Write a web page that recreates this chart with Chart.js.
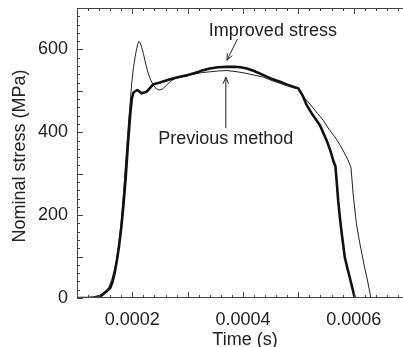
<!DOCTYPE html>
<html>
<head>
<meta charset="utf-8">
<script src="https://cdn.jsdelivr.net/npm/chart.js@4/dist/chart.umd.min.js"></script>
<style>
  html, body { margin: 0; padding: 0; background: #fff; overflow: hidden; }
  #wrap { width: 412px; height: 347px; }
</style>
</head>
<body>
<div id="wrap"><canvas id="stressChart" width="412" height="347"></canvas></div>
<script>
// Improved stress (thick line): time (s) / nominal stress (MPa)
const improvedTime = [0.0001, 0.00013, 0.00014, 0.000148, 0.000155, 0.00016, 0.000164, 0.000168, 0.000172, 0.000176,
  0.00018, 0.000184, 0.000188, 0.000192, 0.000196, 0.000199, 0.000202, 0.000209, 0.000217, 0.000226,
  0.000238, 0.00025, 0.000268, 0.000286, 0.0003, 0.00031, 0.00032, 0.000328, 0.00034, 0.000355,
  0.00037, 0.000385, 0.000395, 0.000407, 0.00042, 0.000437, 0.00045, 0.000467, 0.00048, 0.000491,
  0.0005, 0.000508, 0.000515, 0.000525, 0.000539, 0.000551, 0.000558, 0.000563, 0.000567, 0.00057,
  0.000572, 0.000575, 0.000578, 0.000584, 0.000589, 0.000593, 0.000598, 0.000602];
const improvedStress = [0, 0, 2, 10, 18, 24, 38, 60, 90, 125,
  170, 225, 290, 370, 440, 480, 496, 502, 494, 498,
  516, 520, 528, 534, 538, 542, 546, 550, 554, 557,
  558, 558, 557, 554, 548, 538, 530, 522, 515, 510,
  506, 488, 466, 444, 417, 381, 355, 332, 318, 270,
  235, 195, 160, 98, 70, 49, 22, 0];

// Previous method (thin line)
const previousTime = [0.0001, 0.000118, 0.00013, 0.000142, 0.00015, 0.000157, 0.000163, 0.000168, 0.000172, 0.000176,
  0.00018, 0.000183, 0.000187, 0.00019, 0.000193, 0.000196, 0.000199, 0.000202, 0.000205, 0.000208,
  0.00021, 0.000212, 0.000214, 0.000217, 0.00022, 0.000223, 0.000227, 0.000232, 0.000237, 0.000241,
  0.000246, 0.00025, 0.000255, 0.000259, 0.000268, 0.000277, 0.00029, 0.00031, 0.000325, 0.00034,
  0.000355, 0.000371, 0.00039, 0.000407, 0.00042, 0.000437, 0.00045, 0.000467, 0.00048, 0.00049,
  0.0005, 0.000508, 0.000521, 0.000535, 0.000545, 0.000556, 0.000566, 0.000575, 0.000581, 0.000589,
  0.000595, 0.000597, 0.000599, 0.000602, 0.000605, 0.00061, 0.000615, 0.00062, 0.000624, 0.000628,
  0.000631];
const previousStress = [0, 1, 3, 7, 14, 24, 45, 70, 95, 135,
  185, 235, 310, 365, 420, 470, 520, 556, 582, 603,
  614, 619, 616, 605, 590, 572, 550, 530, 516, 508,
  503, 502, 505, 510, 522, 530, 534, 540, 544, 546,
  548, 549, 546, 542, 538, 533, 526, 518, 512, 508,
  505, 488, 468, 445, 429, 406, 389, 370, 356, 335,
  316, 285, 251, 215, 179, 140, 106, 72, 49, 22,
  0];

const xTicks = [0.0002, 0.0004, 0.0006];
const yTicks = [0, 200, 400, 600];
const xTitle = "Time (s)";
const yTitle = "Nominal stress (MPa)";

// Text labels with arrows, in data units
const notes = [
  { text: "Improved stress", x: 0.000454, y: 633, fromX: 0.00039, fromY: 625, toX: 0.000371, toY: 574 },
  { text: "Previous method", x: 0.000369, y: 371, fromX: 0.000369, fromY: 410, toX: 0.000369, toY: 533 },
];

const FONT = '18px "Liberation Sans", Arial, sans-serif';
const INK = "#222";

function zip(xs, ys) {
  return xs.map((t, i) => ({ x: t, y: ys[i] }));
}

function noPadding(s) {
  s.paddingTop = 0;
  s.paddingBottom = 0;
  s.paddingLeft = 0;
  s.paddingRight = 0;
}

// Boxed frame with inward ticks on all four sides, axis titles, and notes
const framePlugin = {
  id: "frame",
  afterDraw(chart) {
    const { ctx, chartArea: a, scales: { x, y } } = chart;
    ctx.save();
    ctx.strokeStyle = "#444";
    ctx.lineWidth = 1;
    ctx.strokeRect(a.left + 0.5, a.top + 0.5, a.right - a.left - 1, a.bottom - a.top - 1);

    ctx.beginPath();
    for (let i = 5; i <= 35; i++) {
      const px = Math.round(x.getPixelForValue(i * 0.00002)) + 0.5;
      const len = i % 5 === 0 ? 6 : 3;
      ctx.moveTo(px, a.bottom); ctx.lineTo(px, a.bottom - len);
      ctx.moveTo(px, a.top); ctx.lineTo(px, a.top + len);
    }
    for (let v = 0; v <= 700; v += 20) {
      const py = Math.round(y.getPixelForValue(v)) + 0.5;
      const len = v % 100 === 0 ? 6 : 3;
      ctx.moveTo(a.left, py); ctx.lineTo(a.left + len, py);
      ctx.moveTo(a.right, py); ctx.lineTo(a.right - len, py);
    }
    ctx.stroke();

    ctx.fillStyle = INK;
    ctx.font = FONT;
    ctx.textAlign = "center";
    ctx.textBaseline = "alphabetic";
    ctx.fillText(xTitle, (a.left + a.right) / 2 + 2, 344.5);

    ctx.save();
    ctx.translate(24.5, (a.top + a.bottom) / 2 + 3);
    ctx.rotate(-Math.PI / 2);
    ctx.fillText(yTitle, 0, 0);
    ctx.restore();

    ctx.strokeStyle = INK;
    notes.forEach((n) => {
      ctx.fillText(n.text, x.getPixelForValue(n.x), y.getPixelForValue(n.y));
      const x0 = x.getPixelForValue(n.fromX), y0 = y.getPixelForValue(n.fromY);
      const x1 = x.getPixelForValue(n.toX), y1 = y.getPixelForValue(n.toY);
      const ang = Math.atan2(y1 - y0, x1 - x0);
      ctx.beginPath();
      ctx.moveTo(x0, y0);
      ctx.lineTo(x1, y1);
      ctx.moveTo(x1 - 7 * Math.cos(ang - 0.4), y1 - 7 * Math.sin(ang - 0.4));
      ctx.lineTo(x1, y1);
      ctx.lineTo(x1 - 7 * Math.cos(ang + 0.4), y1 - 7 * Math.sin(ang + 0.4));
      ctx.stroke();
    });
    ctx.restore();
  },
};

new Chart(document.getElementById("stressChart"), {
  type: "line",
  data: {
    datasets: [
      {
        label: "Improved stress",
        data: zip(improvedTime, improvedStress),
        borderColor: "#111",
        borderWidth: 2.6,
        pointRadius: 0,
        tension: 0,
        borderJoinStyle: "round",
      },
      {
        label: "Previous method",
        data: zip(previousTime, previousStress),
        borderColor: "#222",
        borderWidth: 1,
        pointRadius: 0,
        tension: 0,
      },
    ],
  },
  options: {
    responsive: false,
    animation: false,
    layout: { padding: { left: 0, top: 8, right: 3, bottom: 0 } },
    plugins: { legend: { display: false }, tooltip: { enabled: false } },
    scales: {
      x: {
        type: "linear",
        min: 0.0001,
        max: 0.0007,
        grid: { display: false, drawTicks: false },
        border: { display: false },
        afterBuildTicks: (s) => { s.ticks = xTicks.map((v) => ({ value: v })); },
        afterFit: (s) => { s.height = 49; noPadding(s); },
        ticks: {
          padding: 11,
          color: INK,
          font: { family: '"Liberation Sans", Arial, sans-serif', size: 18 },
          maxRotation: 0,
          callback: (v) => v.toFixed(4),
        },
      },
      y: {
        min: 0,
        max: 700,
        grid: { display: false, drawTicks: false },
        border: { display: false },
        afterBuildTicks: (s) => { s.ticks = yTicks.map((v) => ({ value: v })); },
        afterFit: (s) => { s.width = 77; noPadding(s); },
        ticks: {
          padding: 9,
          color: INK,
          font: { family: '"Liberation Sans", Arial, sans-serif', size: 18 },
        },
      },
    },
  },
  plugins: [framePlugin],
});
</script>
</body>
</html>
